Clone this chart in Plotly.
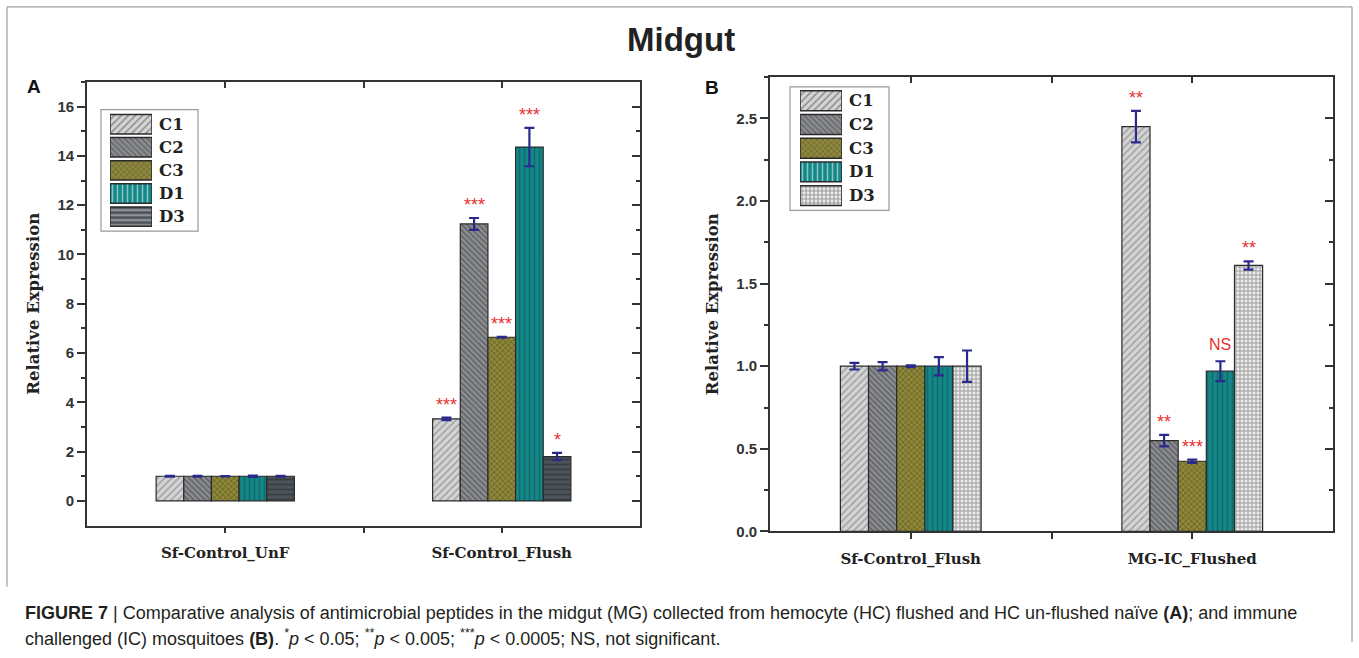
import plotly.graph_objects as go

W, H = 1359, 658

series = ["C1", "C2", "C3", "D1", "D3"]

# ---- Panel A: naive midgut, un-flushed vs flushed ----
groups_a = ["Sf-Control_UnF", "Sf-Control_Flush"]
a_c1 = [1.00, 3.33]
a_c2 = [1.00, 11.24]
a_c3 = [1.00, 6.64]
a_d1 = [1.00, 14.36]
a_d3 = [1.00, 1.80]
a_c1_err = [0.02, 0.05]
a_c2_err = [0.02, 0.24]
a_c3_err = [0.01, 0.02]
a_d1_err = [0.03, 0.78]
a_d3_err = [0.02, 0.15]
a_c1_sig = ["", "***"]
a_c2_sig = ["", "***"]
a_c3_sig = ["", "***"]
a_d1_sig = ["", "***"]
a_d3_sig = ["", "*"]

# ---- Panel B: flushed control vs immune challenged ----
groups_b = ["Sf-Control_Flush", "MG-IC_Flushed"]
b_c1 = [1.00, 2.45]
b_c2 = [1.00, 0.55]
b_c3 = [1.00, 0.425]
b_d1 = [1.00, 0.97]
b_d3 = [1.00, 1.61]
b_c1_err = [0.02, 0.095]
b_c2_err = [0.025, 0.035]
b_c3_err = [0.005, 0.01]
b_d1_err = [0.055, 0.06]
b_d3_err = [0.095, 0.025]
b_c1_sig = ["", "**"]
b_c2_sig = ["", "**"]
b_c3_sig = ["", "***"]
b_d1_sig = ["", "NS"]
b_d3_sig = ["", "**"]

a_ticks = [-1, 17, 2]
b_ticks = [0, 2.75, 0.5]

# fill patterns for each series
STYLE = {
    "C1": dict(shape="/", bgcolor="#d4d4d4", fgcolor="#6c6c6c", size=5, solidity=0.3),
    "C2": dict(shape="\\", bgcolor="#8c8e92", fgcolor="#35373b", size=4, solidity=0.4),
    "C3": dict(shape="x", bgcolor="#8f8838", fgcolor="#3a3818", size=4, solidity=0.35),
    "D1": dict(shape="|", bgcolor="#148888", fgcolor="#0a4d4f", size=5, solidity=0.3),
    "D3A": dict(shape="-", bgcolor="#4d5359", fgcolor="#25292d", size=5, solidity=0.35),
    "D3B": dict(shape="+", bgcolor="#ececec", fgcolor="#4a4a4a", size=4, solidity=0.45),
}
OUTLINE = "#2a2a2a"
ERR = "#2b2a8c"
SIG = "#e8312f"
AXC = "#333333"
SERIF = "DejaVu Serif"
SANS = "Liberation Sans"

panel_a = [
    ("C1", a_c1, a_c1_err, a_c1_sig, "C1"),
    ("C2", a_c2, a_c2_err, a_c2_sig, "C2"),
    ("C3", a_c3, a_c3_err, a_c3_sig, "C3"),
    ("D1", a_d1, a_d1_err, a_d1_sig, "D1"),
    ("D3", a_d3, a_d3_err, a_d3_sig, "D3A"),
]
panel_b = [
    ("C1", b_c1, b_c1_err, b_c1_sig, "C1"),
    ("C2", b_c2, b_c2_err, b_c2_sig, "C2"),
    ("C3", b_c3, b_c3_err, b_c3_sig, "C3"),
    ("D1", b_d1, b_d1_err, b_d1_sig, "D1"),
    ("D3", b_d3, b_d3_err, b_d3_sig, "D3B"),
]

BARGAP = 0.5
fig = go.Figure()
annotations = []


def add_panel(data, groups, xa, ya):
    pos = list(range(len(groups)))
    n = len(data)
    bw = (1 - BARGAP) / n
    for i, (name, vals, errs, sigs, sty) in enumerate(data):
        fig.add_trace(go.Bar(
            x=pos, y=vals, name=name, xaxis=xa, yaxis=ya,
            marker=dict(color=STYLE[sty]["bgcolor"], pattern=STYLE[sty],
                        line=dict(color=OUTLINE, width=1.2)),
            error_y=dict(type="data", array=errs, color=ERR, thickness=2.2, width=5),
            showlegend=False,
        ))
        for j, s in enumerate(sigs):
            if not s:
                continue
            is_ns = s == "NS"
            annotations.append(dict(
                x=pos[j] + (i - (n - 1) / 2) * bw, y=vals[j] + errs[j],
                xref=xa, yref=ya, text=s, showarrow=False,
                yanchor="bottom", yshift=6 if is_ns else 1,
                font=dict(color=SIG, size=16 if is_ns else 18, family=SANS),
            ))


add_panel(panel_a, groups_a, "x", "y")
add_panel(panel_b, groups_b, "x2", "y2")


def add_legend(data, xa, ya):
    names = [d[0] for d in data]
    stys = [STYLE[d[4]] for d in data]
    fig.add_trace(go.Bar(
        x=[1] * len(names), y=names, orientation="h", xaxis=xa, yaxis=ya,
        marker=dict(
            color=[s["bgcolor"] for s in stys],
            pattern=dict(
                shape=[s["shape"] for s in stys],
                bgcolor=[s["bgcolor"] for s in stys],
                fgcolor=[s["fgcolor"] for s in stys],
                size=[s["size"] for s in stys],
                solidity=[s["solidity"] for s in stys],
            ),
            line=dict(color=OUTLINE, width=1.5),
        ),
        offsetgroup="key", width=0.84, showlegend=False, hoverinfo="skip",
    ))
    for nm in names:
        annotations.append(dict(
            x=1, y=nm, xref=xa, yref=ya, text=nm, showarrow=False,
            xanchor="left", yanchor="middle", xshift=5,
            font=dict(family=SERIF, size=16.5, color="#222", weight="bold"),
        ))


add_legend(panel_a, "x3", "y3")
add_legend(panel_b, "x4", "y4")

# empty traces so the mirrored (inward-tick) axes are drawn
fig.add_trace(go.Scatter(x=[None], y=[None], xaxis="x5", yaxis="y5", showlegend=False))
fig.add_trace(go.Scatter(x=[None], y=[None], xaxis="x6", yaxis="y6", showlegend=False))


def px_x(v):
    return v / W


def px_y(v):
    return 1 - v / H


def frange(lo, hi, step):
    out, v = [], lo
    while v <= hi + 1e-9:
        out.append(round(v, 6))
        v += step
    return out


A_DOM_X = [px_x(87), px_x(640)]
A_DOM_Y = [px_y(532), px_y(83)]
B_DOM_X = [px_x(770), px_x(1333)]
B_DOM_Y = [px_y(538), px_y(78)]

axis_line = dict(showline=True, linecolor=AXC, linewidth=1.6, showgrid=False,
                 zeroline=False, tickcolor=AXC, tickwidth=1.6)


def xaxis_main(dom, groups, anchor):
    return dict(domain=dom, anchor=anchor, range=[-0.5, len(groups) - 0.5],
                tickvals=list(range(len(groups))), ticktext=groups,
                ticks="outside", ticklen=6, mirror=True, ticklabelstandoff=7,
                minor=dict(tickvals=[0.5], ticks="outside", ticklen=6,
                           tickcolor=AXC, tickwidth=1.6),
                tickfont=dict(family=SERIF, size=15, color="#222", weight="bold"),
                **axis_line)


def yaxis_main(dom, rng, anchor, fmt):
    lo, hi, step = rng
    return dict(domain=dom, anchor=anchor, range=[lo, hi],
                tickvals=frange(0 if lo < 0 else lo, hi, step), tickformat=fmt,
                ticks="outside", ticklen=8, mirror=True,
                minor=dict(tickvals=frange(0 if lo < 0 else lo, hi, step / 2),
                           ticks="outside", ticklen=4, tickcolor=AXC, tickwidth=1.6),
                tickfont=dict(family=SANS, size=15, color="#333", weight="bold"),
                title=dict(text="Relative Expression", standoff=14,
                           font=dict(family=SERIF, size=16.5, color="#222", weight="bold")),
                **axis_line)


def yaxis_right(rng, over, anchor):
    lo, hi, step = rng
    return dict(overlaying=over, side="right", anchor=anchor, range=[lo, hi],
                tickvals=frange(0 if lo < 0 else lo, hi, step),
                ticks="inside", ticklen=8, showticklabels=False,
                minor=dict(tickvals=frange(0 if lo < 0 else lo, hi, step / 2),
                           ticks="inside", ticklen=4, tickcolor=AXC, tickwidth=1.6),
                showline=False, showgrid=False, zeroline=False,
                tickcolor=AXC, tickwidth=1.6)


def xaxis_top(groups, over, anchor):
    return dict(overlaying=over, side="top", anchor=anchor,
                range=[-0.5, len(groups) - 0.5], tickvals=[0, 0.5, 1],
                ticks="inside", ticklen=6, showticklabels=False,
                showline=False, showgrid=False, zeroline=False,
                tickcolor=AXC, tickwidth=1.6)


legend_hidden = dict(visible=False)

fig.update_layout(
    width=W, height=H,
    margin=dict(l=0, r=0, t=0, b=0),
    paper_bgcolor="white", plot_bgcolor="white",
    barmode="group", bargap=BARGAP, bargroupgap=0,
    xaxis=xaxis_main(A_DOM_X, groups_a, "y"),
    yaxis=yaxis_main(A_DOM_Y, a_ticks, "x", "d"),
    xaxis2=xaxis_main(B_DOM_X, groups_b, "y2"),
    yaxis2=yaxis_main(B_DOM_Y, b_ticks, "x2", ".1f"),
    xaxis3=dict(domain=[px_x(110), px_x(152)], anchor="y3", range=[0, 1], **legend_hidden),
    yaxis3=dict(domain=[px_y(231), px_y(114)], anchor="x3", range=[4.5, -0.5],
                type="category", **legend_hidden),
    xaxis4=dict(domain=[px_x(800), px_x(842)], anchor="y4", range=[0, 1], **legend_hidden),
    yaxis4=dict(domain=[px_y(210), px_y(90)], anchor="x4", range=[4.5, -0.5],
                type="category", **legend_hidden),
    xaxis5=xaxis_top(groups_a, "x", "y"),
    yaxis5=yaxis_right(a_ticks, "y", "x"),
    xaxis6=xaxis_top(groups_b, "x2", "y2"),
    yaxis6=yaxis_right(b_ticks, "y2", "x2"),
)

# headings, panel letters and caption
annotations += [
    dict(x=px_x(681), y=px_y(40), xref="paper", yref="paper", text="<b>Midgut</b>",
         xanchor="center", yanchor="middle",
         showarrow=False, font=dict(family=SANS, size=33, color="#222")),
    dict(x=px_x(34), y=px_y(88), xref="paper", yref="paper", text="<b>A</b>",
         xanchor="center", yanchor="middle",
         showarrow=False, font=dict(family=SANS, size=19, color="#111")),
    dict(x=px_x(712), y=px_y(89), xref="paper", yref="paper", text="<b>B</b>",
         xanchor="center", yanchor="middle",
         showarrow=False, font=dict(family=SANS, size=19, color="#111")),
    dict(x=px_x(23), y=px_y(621), xref="paper", yref="paper", xanchor="left", yanchor="middle",
         showarrow=False, font=dict(family=SANS, size=18, color="#231f20"),
         text="<b>FIGURE 7</b> | Comparative analysis of antimicrobial peptides in the midgut (MG) "
              "collected from hemocyte (HC) flushed and HC un-flushed naïve <b>(A)</b>; and immune"),
    dict(x=px_x(23), y=px_y(645), xref="paper", yref="paper", xanchor="left", yanchor="middle",
         showarrow=False, font=dict(family=SANS, size=18, color="#231f20"),
         text="challenged (IC) mosquitoes <b>(B)</b>. <sup>*</sup><i>p</i> &lt; 0.05; "
              "<sup>**</sup><i>p</i> &lt; 0.005; <sup>***</sup><i>p</i> &lt; 0.0005; NS, not significant."),
]

shapes = [
    # legend frames
    dict(type="rect", xref="paper", yref="paper", x0=px_x(101), x1=px_x(198),
         y0=px_y(234), y1=px_y(111), line=dict(color="#9a9a9a", width=1.2)),
    dict(type="rect", xref="paper", yref="paper", x0=px_x(790), x1=px_x(889),
         y0=px_y(213), y1=px_y(88), line=dict(color="#9a9a9a", width=1.2)),
    # figure frame
    dict(type="line", xref="paper", yref="paper", x0=px_x(7), x1=px_x(1352),
         y0=px_y(7), y1=px_y(7), line=dict(color="#8a8a8a", width=1)),
    dict(type="line", xref="paper", yref="paper", x0=px_x(7), x1=px_x(7),
         y0=px_y(7), y1=px_y(594), line=dict(color="#8a8a8a", width=1)),
    dict(type="line", xref="paper", yref="paper", x0=px_x(1352), x1=px_x(1352),
         y0=px_y(7), y1=px_y(650), line=dict(color="#8a8a8a", width=1)),
]

fig.update_layout(annotations=annotations, shapes=shapes)
fig.write_html("out.html")
